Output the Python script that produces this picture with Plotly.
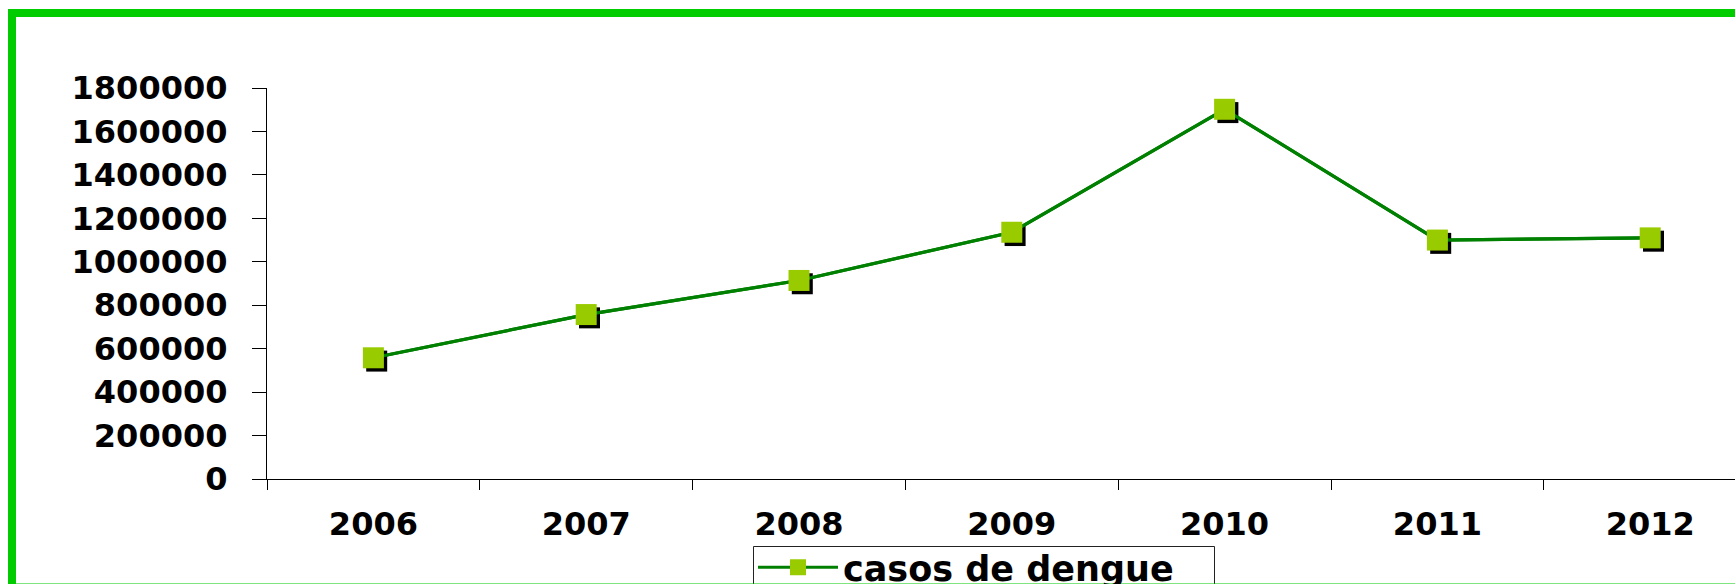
import plotly.graph_objects as go

# ---- data ----
years = ["2006", "2007", "2008", "2009", "2010", "2011", "2012"]
casos = [558000, 757000, 914000, 1136000, 1702000, 1100000, 1110000]
series_name = "casos de dengue"
y_ticks = [0, 200000, 400000, 600000, 800000, 1000000, 1200000, 1400000, 1600000, 1800000]

# ---- layout constants (page body margin removed below) ----
W, H = 1735, 584
ML, MR, MT, MB = 267, 0, 88, 105
PW, PH = W - ML - MR, H - MT - MB
CAT_W = 212.8                     # pixel width of one category
x_rng = [-0.5, PW / CAT_W - 0.5]
y_rng = [0, 1800000]
SH = 3.3                          # shadow offset in px
dx = SH / CAT_W
dy = SH / PH * (y_rng[1] - y_rng[0])

FONT = "DejaVu Sans"
LINE_C = "#008000"
MARK_C = "#99CC00"
FRAME_C = "#00CC00"

fig = go.Figure()

# line (base subplot)
fig.add_trace(go.Scatter(x=years, y=casos, mode="lines",
                         line=dict(color=LINE_C, width=3.2),
                         showlegend=False, hoverinfo="skip",
                         xaxis="x", yaxis="y"))
# marker shadows
fig.add_trace(go.Scatter(x=years, y=casos, mode="markers",
                         marker=dict(symbol="square", size=21, color="#000000",
                                     line=dict(width=0)),
                         showlegend=False, hoverinfo="skip",
                         xaxis="x2", yaxis="y2"))
# main series
fig.add_trace(go.Scatter(x=years, y=casos, mode="lines+markers", name=series_name,
                         line=dict(color=LINE_C, width=3.2),
                         marker=dict(symbol="square", size=21, color=MARK_C,
                                     line=dict(width=0)),
                         xaxis="x3", yaxis="y3"))

tickfont = dict(family=FONT, size=32, color="#000000", weight="bold")


def px_x(p):
    return (p - ML) / PW


def px_y(p):
    return (MT + PH - p) / PH


fig.update_layout(
    width=W, height=H,
    margin=dict(l=ML, r=MR, t=MT, b=MB, autoexpand=False),
    paper_bgcolor="#FFFFFF", plot_bgcolor="#FFFFFF",
    font=dict(family=FONT, color="#000000"),
    xaxis=dict(type="category", categoryorder="array", categoryarray=years,
               range=x_rng, showgrid=False, zeroline=False,
               showline=True, linecolor="#000000", linewidth=1.3,
               ticks="outside", tickson="boundaries", ticklen=10,
               tickcolor="#000000", tickwidth=1.3,
               tickfont=tickfont, ticklabelstandoff=16, fixedrange=True),
    yaxis=dict(range=y_rng, tickvals=y_ticks, tickformat="d",
               showgrid=False, zeroline=False,
               showline=True, linecolor="#000000", linewidth=1.3,
               ticks="outside", ticklen=14, tickcolor="#000000", tickwidth=1.3,
               tickfont=tickfont, ticklabelstandoff=18, fixedrange=True),
    xaxis2=dict(type="category", categoryorder="array", categoryarray=years,
                range=[x_rng[0] - dx, x_rng[1] - dx], overlaying="x",
                visible=False, fixedrange=True),
    yaxis2=dict(range=[y_rng[0] + dy, y_rng[1] + dy], overlaying="y",
                visible=False, fixedrange=True),
    xaxis3=dict(type="category", categoryorder="array", categoryarray=years,
                range=x_rng, overlaying="x", visible=False, fixedrange=True),
    yaxis3=dict(range=y_rng, overlaying="y", visible=False, fixedrange=True),
    legend=dict(x=px_x(753), y=px_y(538),
                xanchor="left", yanchor="top", orientation="h",
                bgcolor="rgba(0,0,0,0)", borderwidth=0,
                font=dict(family=FONT, size=35, color="#000000", weight="bold"),
                itemwidth=80, entrywidth=366),
    showlegend=True,
)

# legend frame
fig.add_shape(type="rect", xref="paper", yref="paper",
              x0=px_x(753.5), x1=px_x(1214.5), y0=px_y(H + 40), y1=px_y(546.5),
              line=dict(color="#222222", width=1), fillcolor="rgba(0,0,0,0)",
              layer="above")

# green frame around the chart
frame = dict(color=FRAME_C, width=8)
fig.add_shape(type="line", xref="paper", yref="paper",
              x0=px_x(8), x1=px_x(W + 60), y0=px_y(13), y1=px_y(13),
              line=frame, layer="above")
fig.add_shape(type="line", xref="paper", yref="paper",
              x0=px_x(12), x1=px_x(12), y0=px_y(9), y1=px_y(H + 60),
              line=frame, layer="above")
fig.add_shape(type="line", xref="paper", yref="paper",
              x0=px_x(8), x1=px_x(W + 60), y0=px_y(587.5), y1=px_y(587.5),
              line=frame, layer="above")

fig.write_html(
    "out.html",
    config={"displayModeBar": False},
    post_script="document.body.style.margin='0';"
                "document.documentElement.style.overflow='hidden';"
                "document.body.style.overflow='hidden';",
)
